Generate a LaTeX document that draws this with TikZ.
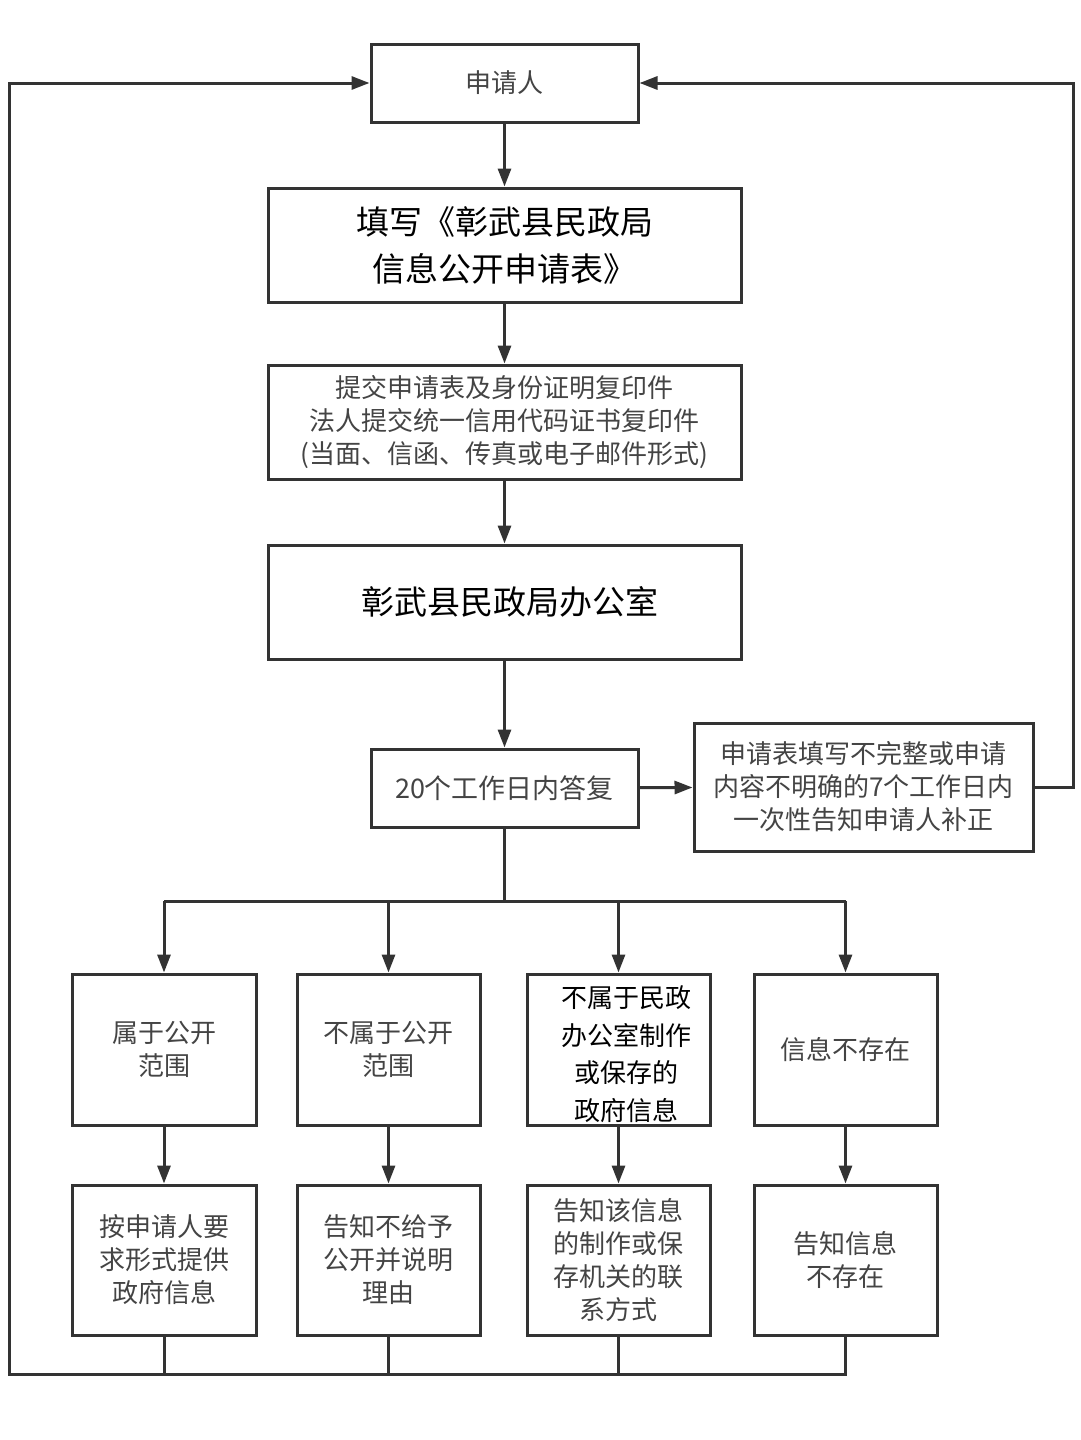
\documentclass[tikz,border=0pt]{standalone}
\usepackage{fontspec}
\setmainfont{Noto Sans CJK SC}
\usetikzlibrary{arrows.meta}
\definecolor{ln}{HTML}{333333}
\definecolor{tx}{HTML}{444444}
\begin{document}
\begin{tikzpicture}[x=1pt,y=-1pt,
  box/.style={draw=ln,line width=3pt,inner sep=0pt,align=center,text=tx,
    font=\fontsize{26}{33}\selectfont},
  big/.style={text=black,font=\fontsize{33}{47}\selectfont},
  conn/.style={draw=ln,line width=3pt},
  arr/.style={conn,-{Triangle[length=18pt,width=13pt]}}]
\useasboundingbox[fill=white] (0,0) rectangle (1080,1440);
% main column
\node[box,minimum width=267pt,minimum height=78pt] (a) at (504.5,83) {申请人};
\node[box,big,minimum width=473pt,minimum height=114pt] (b) at (504.5,245) {填写《彰武县民政局\\信息公开申请表》};
\node[box,minimum width=473pt,minimum height=114pt] (c) at (504.5,422) {提交申请表及身份证明复印件\\法人提交统一信用代码证书复印件\\(当面、信函、传真或电子邮件形式)};
\node[box,big,minimum width=473pt,minimum height=114pt] (d) at (504.5,602) {\hspace{10pt}彰武县民政局办公室};
\node[box,font=\fontsize{27}{33}\selectfont,minimum width=267pt,minimum height=78pt] (e) at (504.5,788) {20个工作日内答复};
\node[box,minimum width=339pt,minimum height=128pt] (f) at (863.5,787) {申请表填写不完整或申请\\内容不明确的7个工作日内\\一次性告知申请人补正};
% top row
\node[box,minimum width=184pt,minimum height=151pt] (t1) at (164,1049.5) {属于公开\\范围};
\node[box,minimum width=183pt,minimum height=151pt] (t2) at (388.5,1049.5) {不属于公开\\范围};
\node[box,minimum width=183pt,minimum height=151pt] (t3) at (618.5,1049.5) {};
\node[align=center,inner sep=0pt,text=black,font=\fontsize{26}{37.5}\selectfont] (t3t) at (626,1054) {不属于民政\\办公室制作\\或保存的\\政府信息};
\node[box,minimum width=183pt,minimum height=151pt] (t4) at (845.5,1049.5) {信息不存在};
% bottom row
\node[box,minimum width=184pt,minimum height=150pt] (u1) at (164,1260) {按申请人要\\求形式提供\\政府信息};
\node[box,minimum width=183pt,minimum height=150pt] (u2) at (388.5,1260) {告知不给予\\公开并说明\\理由};
\node[box,minimum width=183pt,minimum height=150pt] (u3) at (618.5,1260) {告知该信息\\的制作或保\\存机关的联\\系方式};
\node[box,minimum width=183pt,minimum height=150pt] (u4) at (845.5,1260) {告知信息\\不存在};
% coordinates
\coordinate (br) at (504.5,901);
\coordinate (bl) at (9,1374);
\coordinate (rr) at (1073,787);
% main arrows
\draw[arr] (a) -- (b);
\draw[arr] (b) -- (c);
\draw[arr] (c) -- (d);
\draw[arr] (d) -- (e);
\draw[arr] (e) -- (f);
\draw[arr] (f.east) -- (rr) |- (a.east);
% branching
\draw[conn] (e.south) -- (br);
\draw[conn] (t1.north |- br) -- (t4.north |- br);
\foreach \n in {t1,t2,t3,t4} \draw[arr] (\n.north |- br) -- (\n.north);
\draw[arr] (t1) -- (u1);
\draw[arr] (t2) -- (u2);
\draw[arr] (t3) -- (u3);
\draw[arr] (t4) -- (u4);
% return line
\foreach \n in {u1,u2,u3} \draw[conn] (\n.south) -- (\n.south |- bl);
\draw[arr] (u4.south) |- (bl) |- (a.west);
\end{tikzpicture}
\end{document}
